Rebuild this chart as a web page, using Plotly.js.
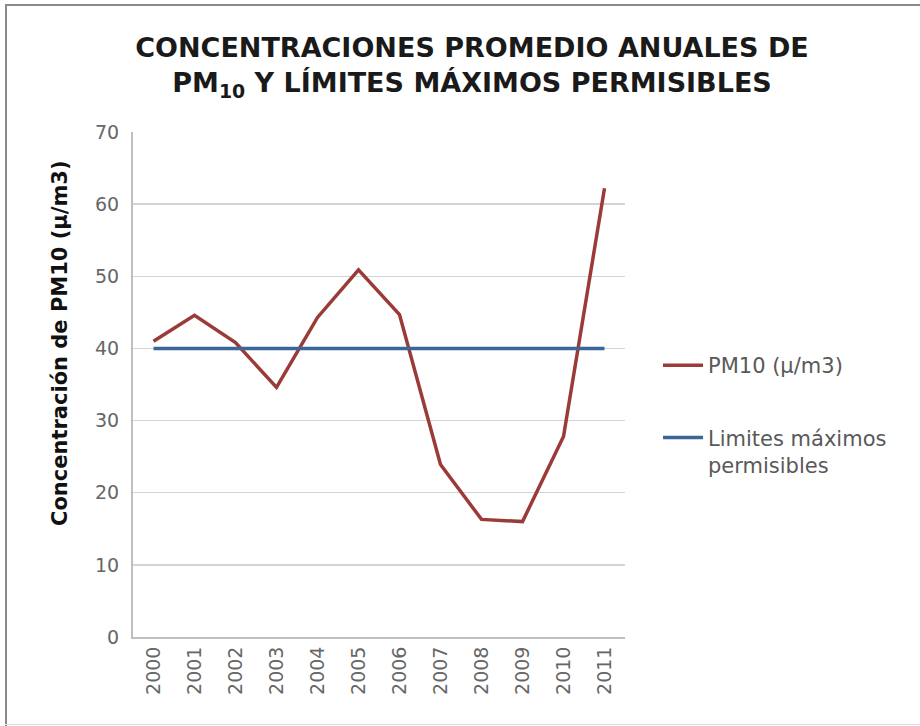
<!DOCTYPE html>
<html>
<head>
<meta charset="utf-8">
<script src="https://cdn.plot.ly/plotly-3.0.1.min.js"></script>
<style>
html,body{margin:0;padding:0;background:#fff;}
#wrap{position:relative;width:920px;height:726px;overflow:hidden;}
#chart{position:absolute;left:0;top:0;width:920px;height:726px;}
.bl{position:absolute;left:5px;top:4px;width:2px;height:722px;background:#8a8a8a;}
.bt{position:absolute;left:5px;top:4px;width:915px;height:2px;background:#8a8a8a;}
.bb{position:absolute;left:5px;top:724px;width:915px;height:1px;background:#e0e0e0;}
</style>
</head>
<body>
<div id="wrap">
<div id="chart"></div>
<div class="bl"></div><div class="bt"></div><div class="bb"></div>
</div>
<script>
const years = ["2000","2001","2002","2003","2004","2005","2006","2007","2008","2009","2010","2011"];
const pm10 = [41.0, 44.6, 40.8, 34.6, 44.3, 50.9, 44.7, 23.9, 16.3, 16.0, 27.8, 62.2];
const limite = [40, 40, 40, 40, 40, 40, 40, 40, 40, 40, 40, 40];
const yTicks = [0, 10, 20, 30, 40, 50, 60, 70];

const tickFont = {family: "DejaVu Sans", size: 19, color: "#666666"};
const W = 920, H = 726;
const L = 133, R = 625, T = 132, B = 637;

const traces = [
  {x: years, y: pm10, type: "scatter", mode: "lines", name: "PM10 (µ/m3)",
   legendgroup: "a", line: {color: "#9b3b38", width: 3.5}},
  {x: years, y: limite, type: "scatter", mode: "lines", name: "Limites máximos<br>permisibles",
   legendgroup: "b", line: {color: "#3c6599", width: 3.5}}
];

const layout = {
  width: W, height: H,
  margin: {l: L, r: W - R, t: T, b: H - B, pad: 0},
  paper_bgcolor: "rgba(0,0,0,0)", plot_bgcolor: "#fff",
  showlegend: true,
  title: {
    text: "CONCENTRACIONES PROMEDIO ANUALES DE<br>PM<sub>10</sub> Y LÍMITES MÁXIMOS PERMISIBLES",
    font: {family: "DejaVu Sans", size: 27, color: "#1a1a1a", weight: 700},
    x: 472 / W, xref: "container", xanchor: "center",
    y: 1 - 57 / H, yref: "container", yanchor: "top"
  },
  xaxis: {
    type: "category", range: [-0.5, 11.5], tickvals: years, ticktext: years,
    tickangle: -90, tickfont: tickFont, showgrid: false, zeroline: false,
    showline: true, linecolor: "#bfbfbf", linewidth: 2, ticks: "", ticklen: 0
  },
  yaxis: {
    range: [0, 70], tickvals: yTicks, ticktext: yTicks.map(String),
    tickfont: tickFont, showgrid: true, gridcolor: "#d4d4d4", gridwidth: 1.5,
    zeroline: false, showline: true, linecolor: "#bfbfbf", linewidth: 2,
    ticks: "", ticklabelstandoff: 8
  },
  legend: {
    x: (658 - L) / (R - L), xanchor: "left", y: (B - 345) / (B - T), yanchor: "top",
    font: {family: "DejaVu Sans", size: 21, color: "#595959"},
    traceorder: "grouped", tracegroupgap: 42, itemwidth: 40, valign: "top",
    bgcolor: "rgba(0,0,0,0)"
  },
  annotations: [{
    text: "Concentración de PM10 (µ/m3)", textangle: -90,
    xref: "paper", yref: "paper",
    x: (60 - L) / (R - L), y: (B - 343) / (B - T),
    xanchor: "center", yanchor: "middle", showarrow: false,
    font: {family: "DejaVu Sans", size: 21, color: "#111", weight: 700}
  }]
};

Plotly.newPlot("chart", traces, layout, {displayModeBar: false, staticPlot: true});
</script>
</body>
</html>
